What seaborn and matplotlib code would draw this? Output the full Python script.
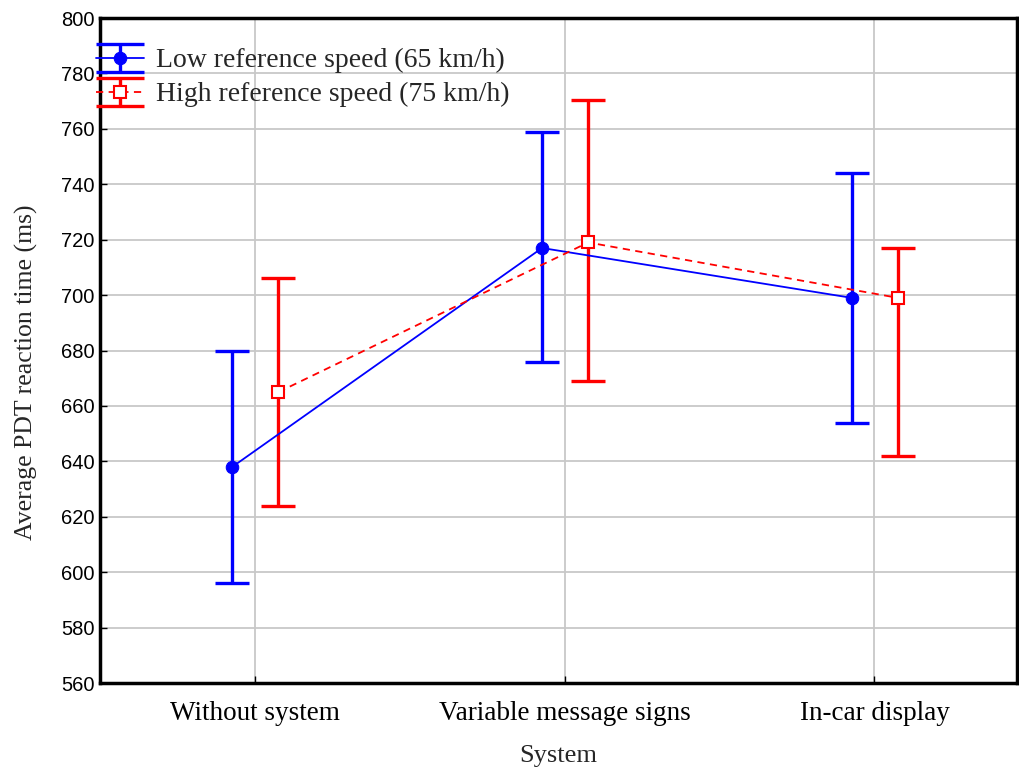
import numpy as np
import pandas as pd
import matplotlib
matplotlib.use("Agg")
import matplotlib.pyplot as plt
from matplotlib.legend_handler import HandlerTuple, HandlerErrorbar
import seaborn as sns

categories = ["Without system", "Variable message signs", "In-car display"]
series_names = ["Low reference speed (65 km/h)", "High reference speed (75 km/h)"]
low_mean = [638, 717, 699]
low_lower = [596, 676, 654]
low_upper = [680, 759, 744]
high_mean = [665, 719, 699]
high_lower = [624, 669, 642]
high_upper = [706, 770.5, 717]
y_ticks = list(range(560, 801, 20))

sns.set_theme(style="whitegrid")
plt.rcParams["font.family"] = ["Liberation Serif", "DejaVu Serif"]

fig = plt.figure(figsize=(10.19, 7.67), dpi=100)
ax = fig.add_axes([0.0981, 0.1095, 0.8999, 0.867])

offsets = [-0.073, 0.076]
colors = ["#0000ff", "#ff0000"]
means = [low_mean, high_mean]
lowers = [low_lower, high_lower]
uppers = [low_upper, high_upper]

rows = []
for s, name in enumerate(series_names):
    for i, c in enumerate(categories):
        rows.append({"series": name, "x": i + offsets[s], "mean": means[s][i],
                     "lo": lowers[s][i], "hi": uppers[s][i]})
df = pd.DataFrame(rows)

sns.lineplot(data=df, x="x", y="mean", hue="series", style="series",
             palette=dict(zip(series_names, colors)),
             markers={series_names[0]: "o", series_names[1]: "s"},
             dashes={series_names[0]: "", series_names[1]: (4, 3)},
             sort=False, legend=False, ax=ax, zorder=4, linewidth=1.3,
             markersize=9)

lines = ax.get_lines()
lines[0].set_markerfacecolor(colors[0]); lines[0].set_markeredgecolor(colors[0]); lines[0].set_markersize(9)
lines[1].set_markerfacecolor("white"); lines[1].set_markeredgecolor(colors[1]); lines[1].set_markersize(8)
lines[1].set_markeredgewidth(1.5)

handles = []
for s, name in enumerate(series_names):
    sub = df[df["series"] == name]
    ax.errorbar(sub["x"], sub["mean"],
                yerr=[sub["mean"] - sub["lo"], sub["hi"] - sub["mean"]],
                fmt="none", ecolor=colors[s], elinewidth=2.4,
                capsize=12, capthick=2.4, zorder=3)
    proxy = ax.errorbar([np.nan], [np.nan], yerr=[[1], [1]], fmt="none",
                        ecolor=colors[s], elinewidth=2.4, capsize=17, capthick=2.4)
    handles.append((proxy, lines[s]))

ax.set_xlim(-0.5, 2.46)
ax.set_ylim(560, 800)
ax.set_yticks(y_ticks)
ax.set_xticks(range(len(categories)))
ax.set_xticklabels(categories, fontsize=19.5)
ax.set_yticklabels([str(t) for t in y_ticks], fontsize=14.5, family=["Liberation Sans", "DejaVu Sans"])
ax.tick_params(axis="both", direction="in", length=5, width=1, colors="black",
               left=True, bottom=True)
ax.tick_params(axis="y", pad=4)
ax.tick_params(axis="x", pad=13)
ax.grid(True, color="#c8c8c8", linewidth=1.3)
ax.set_axisbelow(True)
for sp in ax.spines.values():
    sp.set_color("black")
    sp.set_linewidth(2.5)
    sp.set_visible(True)

ax.set_xlabel("System", fontsize=19)
ax.xaxis.set_label_coords(0.5, -0.093)
ax.set_ylabel("Average PDT reaction time (ms)", fontsize=18.5)
ax.yaxis.set_label_coords(-0.068, 0.468)

ax.legend(handles, series_names,
          handler_map={tuple: HandlerTuple(ndivide=1)},
          loc="upper left", bbox_to_anchor=(-0.004, 0.955), borderaxespad=0,
          frameon=False, fontsize=20, handlelength=1.7, handletextpad=0.45,
          handleheight=0.5, labelspacing=0.3, borderpad=0.0)

fig.savefig("out.png", dpi=100)
